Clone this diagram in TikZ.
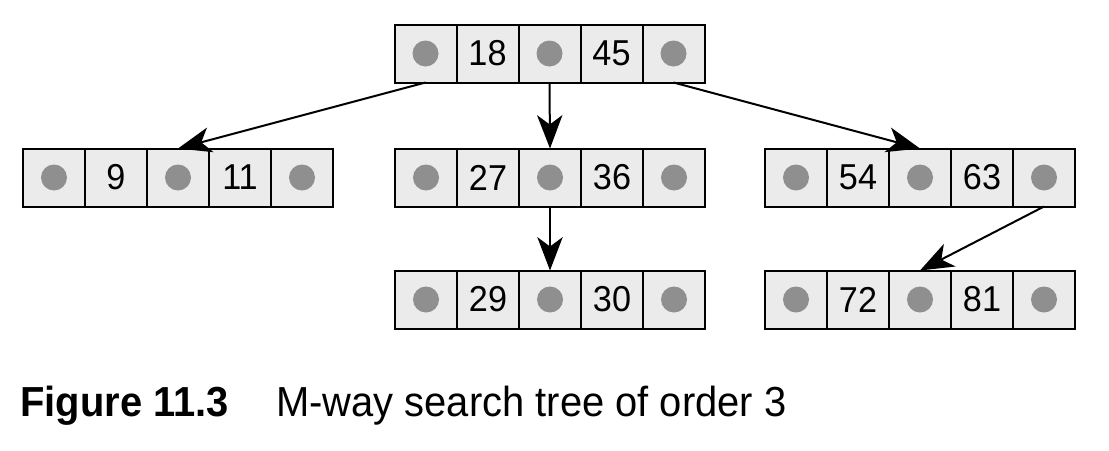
\documentclass[tikz,border=0pt]{standalone}
\usepackage{fontspec}
\setmainfont{Liberation Sans}[FakeStretch=0.95]
\usetikzlibrary{positioning,arrows.meta}

\definecolor{cellgray}{RGB}{235,235,235}
\definecolor{dotgray}{RGB}{143,143,143}

\tikzset{
  cell/.style={draw, line width=1.5pt, fill=cellgray, minimum width=46.5pt, minimum height=43.5pt,
    inner sep=0pt, outer sep=0pt, font=\fontsize{27}{27}\selectfont},
  ptr/.style={cell, path picture={\fill[dotgray] (path picture bounding box.center) circle (9.75pt);}},
  link/.style={line width=1.5pt, -{Stealth[length=25pt,width=19pt,inset=7pt]}},
}

\begin{document}
\begin{tikzpicture}[x=0.75pt,y=0.75pt,yscale=-1,xscale=1]
\useasboundingbox (0,0) rectangle (1109,450);

%Record: root
\node[ptr] (rt0) at (425.5,53.5) {};
\node[cell, right=0pt of rt0] (rt1) {18};
\node[ptr,  right=0pt of rt1] (rt2) {};
\node[cell, right=0pt of rt2] (rt3) {45};
\node[ptr,  right=0pt of rt3] (rt4) {};

%Record: left child
\node[ptr] (lf0) at (54,177.5) {};
\node[cell, right=0pt of lf0] (lf1) {9};
\node[ptr,  right=0pt of lf1] (lf2) {};
\node[cell, right=0pt of lf2] (lf3) {11};
\node[ptr,  right=0pt of lf3] (lf4) {};

%Record: middle child
\node[ptr] (md0) at (426,177.5) {};
\node[cell, right=0pt of md0] (md1) {27};
\node[ptr,  right=0pt of md1] (md2) {};
\node[cell, right=0pt of md2] (md3) {36};
\node[ptr,  right=0pt of md3] (md4) {};

%Record: right child
\node[ptr] (rg0) at (796,177.5) {};
\node[cell, right=0pt of rg0] (rg1) {54};
\node[ptr,  right=0pt of rg1] (rg2) {};
\node[cell, right=0pt of rg2] (rg3) {63};
\node[ptr,  right=0pt of rg3] (rg4) {};

%Record: below middle child
\node[ptr] (mb0) at (426,299.5) {};
\node[cell, right=0pt of mb0] (mb1) {29};
\node[ptr,  right=0pt of mb1] (mb2) {};
\node[cell, right=0pt of mb2] (mb3) {30};
\node[ptr,  right=0pt of mb3] (mb4) {};

%Record: below right child
\node[ptr] (rb0) at (796,299.5) {};
\node[cell, right=0pt of rb0] (rb1) {72};
\node[ptr,  right=0pt of rb1] (rb2) {};
\node[cell, right=0pt of rb2] (rb3) {81};
\node[ptr,  right=0pt of rb3] (rb4) {};

%Straight Lines
\draw[link] (rt0.south) -- (lf2.north);
\draw[link] (rt2.south) -- (md2.north);
\draw[link] (rt4.south) -- (rg2.north);
\draw[link] (md2.south) -- (mb2.north);
\draw[link] (rg4.south) -- (rb2.north);

% Text Node
\node[anchor=base west, inner sep=0pt, font=\fontsize{31.5}{31.5}\bfseries\selectfont] (figno) at (20,416) {Figure 11.3};
% Text Node
\node[anchor=base west, inner sep=0pt, font=\fontsize{31.5}{31.5}\selectfont] (figtitle) at (276,416) {M-way search tree of order 3};
\end{tikzpicture}
\end{document}
